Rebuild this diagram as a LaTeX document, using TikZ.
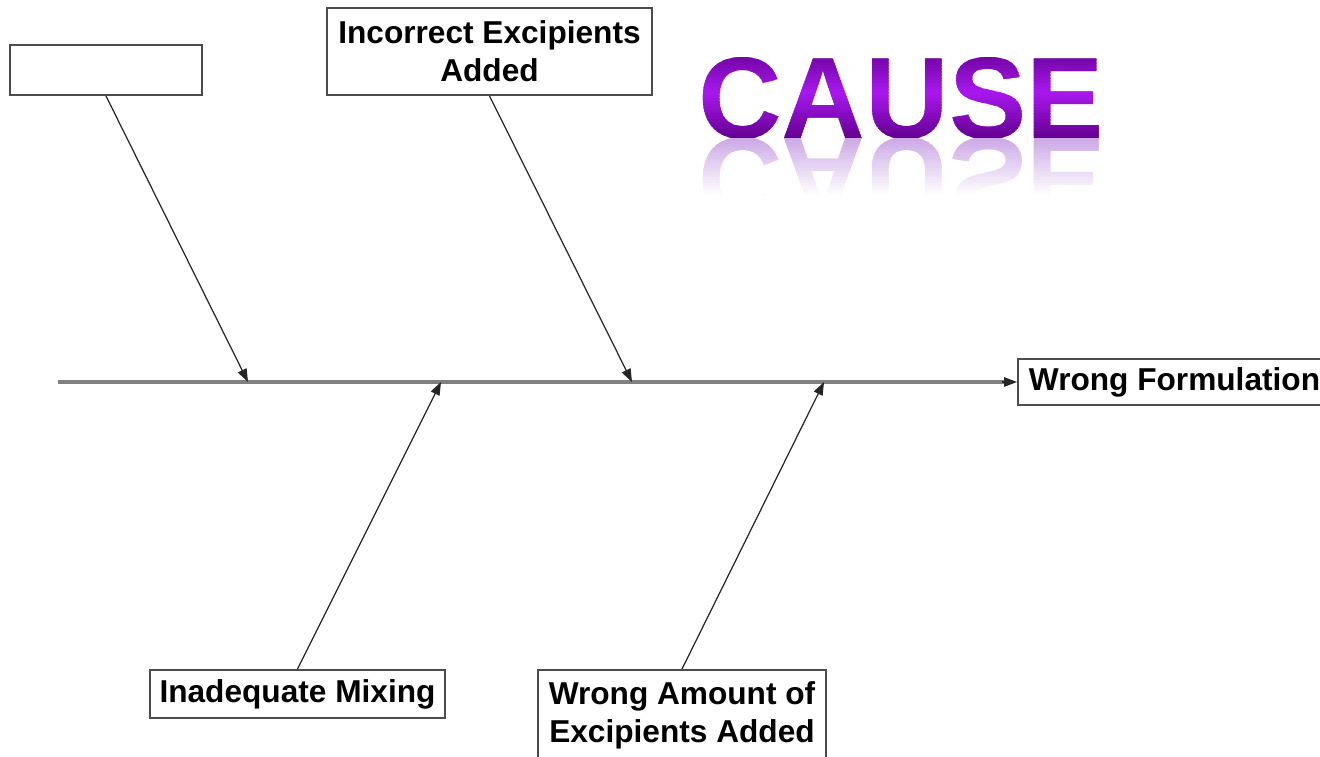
\documentclass[tikz,border=0pt]{standalone}
\usepackage{fontspec}
\setmainfont{Liberation Sans}
\usepackage{xcolor}
\usetikzlibrary{arrows.meta}

\definecolor{causedark}{RGB}{100,0,145}
\definecolor{causelight}{RGB}{168,24,238}
\definecolor{causeshadow}{RGB}{205,170,230}
\newcommand{\causefont}{\fontsize{66}{66}\bfseries\selectfont}
\newcommand{\labelfont}{\fontsize{18}{21.6}\bfseries\selectfont}

\tikzset{
    box/.style={draw=black!70, line width=1.1pt, fill=white, align=center, font=\labelfont, inner sep=0pt},
    bone/.style={draw=black!85, line width=0.7pt},
    spine/.style={draw=black!50, line width=2pt},
    title/.style={anchor=base, inner sep=0pt, font=\causefont}
}

\begin{document}
\begin{tikzpicture}[x=0.2mm, y=-0.2mm, >={Triangle[length=2.6mm, width=1.9mm]}]
    \useasboundingbox (0, 0) rectangle (1320, 756);
    % title, shaded in bands
    \foreach \y in {48, 51, ..., 141} {
        \pgfmathsetmacro{\p}{max(0, 100 - abs(\y - 92) * 2.2)}
        \begin{scope}
            \clip (680, \y) rectangle (1120, \y + 3.5);
            \node[title, text={causelight!\p!causedark}] at (901, 139) (cause) {CAUSE};
        \end{scope}
    }
    % reflection
    \foreach \y in {139, 142, ..., 200} {
        \pgfmathsetmacro{\p}{max(0, 100 - (\y - 139) * 1.8)}
        \begin{scope}
            \clip (680, \y) rectangle (1120, \y + 3.5);
            \node[title, text={causeshadow!\p!white}] at (901, 139) (mirror) {\scalebox{1}[-1]{CAUSE}};
        \end{scope}
    }
    % causes
    \node[box, minimum width=3.84cm, minimum height=1cm] at (106, 70) (blank) {};
    \node[box, minimum width=6.5cm, minimum height=1.74cm] at (489.5, 51.5) (incorrect) {Incorrect Excipients\\Added};
    \node[box, minimum width=5.9cm, minimum height=0.96cm] at (297.5, 694) (mixing) {Inadequate Mixing};
    \node[box, minimum width=5.76cm, minimum height=1.8cm] at (682, 715) (amount) {Wrong Amount of\\Excipients Added};
    \node[box, anchor=west, minimum height=0.92cm, inner xsep=0.22cm] at (1017, 382) (effect) {Wrong Formulation};
    % spine
    \coordinate (tail) at (58, 382);
    \coordinate (s1) at (248, 382);
    \coordinate (s2) at (441, 382);
    \coordinate (s3) at (632, 382);
    \coordinate (s4) at (824, 382);
    \draw[spine] (tail) -- ([xshift=-2mm]effect.west);
    \draw[bone, ->] ([xshift=-3mm]effect.west) -- (effect.west);
    \draw[bone, ->] (blank.south) -- (s1);
    \draw[bone, ->] (incorrect.south) -- (s3);
    \draw[bone, ->] (mixing.north) -- (s2);
    \draw[bone, ->] (amount.north) -- (s4);
\end{tikzpicture}
\end{document}
